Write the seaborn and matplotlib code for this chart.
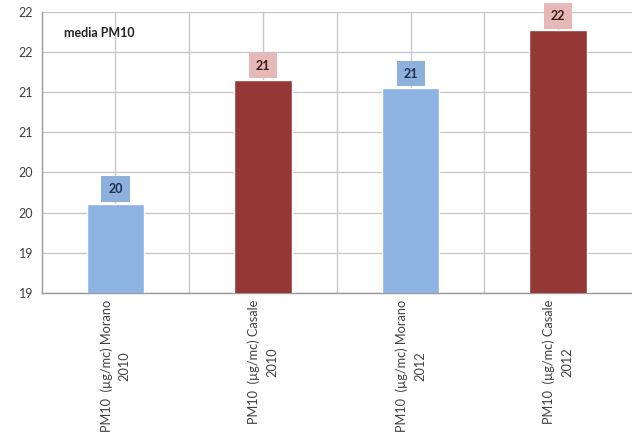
import numpy as np
import pandas as pd
import matplotlib
matplotlib.use("Agg")
import matplotlib.pyplot as plt
import seaborn as sns

categories = ["PM10  (µg/mc) Morano\n2010", "PM10  (µg/mc) Casale\n2010",
              "PM10  (µg/mc) Morano\n2012", "PM10  (µg/mc) Casale\n2012"]
values = [19.61, 21.15, 21.05, 21.77]
bar_colors = ["#8DB3E2", "#953735", "#8DB3E2", "#953735"]
label_box_colors = ["#8EB0DC", "#E6B9B8", "#8EB0DC", "#E6B9B8"]
label_text_colors = ["#1F2D4D", "#3A1A1A", "#1F2D4D", "#3A1A1A"]
y_ticks = [18.5, 19.0, 19.5, 20.0, 20.5, 21.0, 21.5, 22.0]
title_text = "media PM10"

sns.set_style("white")
plt.rcParams['font.family'] = ['Lato', 'DejaVu Sans']

df = pd.DataFrame({"cat": categories, "val": values})

fig = plt.figure(figsize=(6.32, 4.41), dpi=100)
ax = fig.add_axes([0.066, 0.336, 0.934, 0.637])

sns.barplot(data=df, x="cat", y="val", hue="cat", palette=bar_colors,
            width=0.39, legend=False, ax=ax, zorder=3, saturation=1)

ax.set_ylim(18.5, 22.0)
ax.set_xlim(-0.5, 3.5)
ax.set_yticks(y_ticks)
ax.set_yticklabels([str(int(np.floor(v + 0.5))) for v in y_ticks],
                   fontsize=9, color="#404040")
ax.set_xticks(range(len(categories)))
ax.set_xticks([0.5, 1.5, 2.5], minor=True)
ax.set_xticklabels(categories, rotation=90, ha="center", va="top",
                   multialignment="center", fontsize=9.2, color="#404040",
                   linespacing=1.6)
ax.set_xlabel("")
ax.set_ylabel("")

ax.grid(True, which="both", color="#C8C8C8", linewidth=1.0, zorder=0)
ax.set_axisbelow(True)
ax.tick_params(axis="x", which="major", length=0, pad=5)
ax.tick_params(axis="x", which="minor", length=4, color="#9A9A9A")
ax.tick_params(axis="y", length=3, color="#9A9A9A", pad=3)

for s in ["top", "right"]:
    ax.spines[s].set_visible(False)
for s in ["left", "bottom"]:
    ax.spines[s].set_color("#9A9A9A")
    ax.spines[s].set_linewidth(1.0)

for i, v in enumerate(values):
    ax.annotate(str(int(np.floor(v + 0.5))), xy=(i, v), xytext=(0, 10.5),
                textcoords="offset points", ha="center", va="center",
                fontsize=9, fontweight="bold", color=label_text_colors[i],
                bbox=dict(boxstyle="square,pad=0.55", fc=label_box_colors[i],
                          ec="none"), zorder=5)

ax.text(0.038, 0.925, title_text, transform=ax.transAxes, fontsize=9,
        fontweight="bold", color="#222222", ha="left", va="center")

fig.savefig("out.png", dpi=100)
